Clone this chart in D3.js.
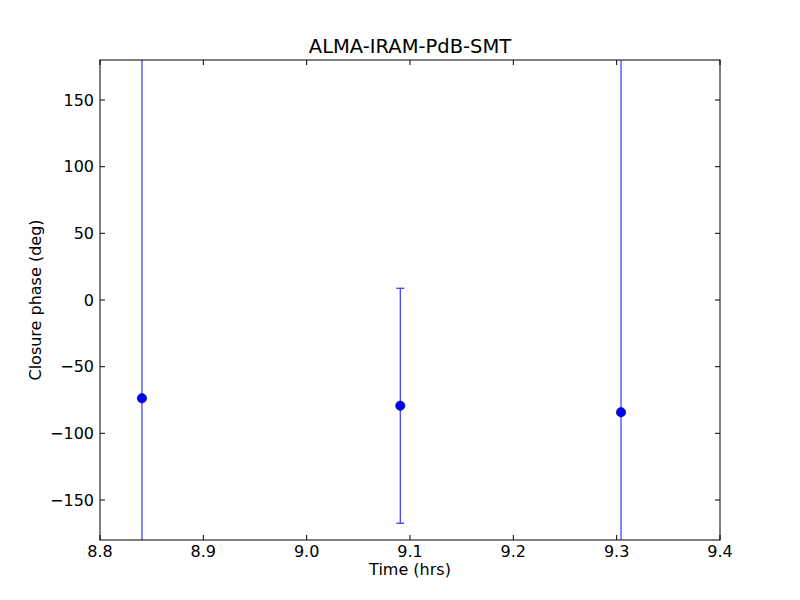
<!DOCTYPE html>
<html>
<head>
<meta charset="utf-8">
<script src="https://cdn.jsdelivr.net/npm/d3@7"></script>
<style>
  body { margin: 0; background: #fff; }
  text { font-family: "DejaVu Sans", sans-serif; fill: #000; }
</style>
</head>
<body>
<svg id="chart" width="800" height="600"></svg>
<script>
const times = [8.8406, 9.0906, 9.3042]
const phases = [-73.7, -79.3, -84.2]
const errors = [270, 88.1, 270]
const xTicks = [8.8, 8.9, 9.0, 9.1, 9.2, 9.3, 9.4]
const yTicks = [-150, -100, -50, 0, 50, 100, 150]

const margin = { top: 60, left: 100, right: 80, bottom: 60 },
    width = 800 - margin.left - margin.right,
    height = 600 - margin.top - margin.bottom

const svg = d3.select("#chart")
svg.append("rect").attr("width", 800).attr("height", 600).attr("fill", "#fff")

const g = svg.append("g")
    .attr("transform", `translate(${margin.left},${margin.top})`)

const x = d3.scaleLinear().domain([8.8, 9.4]).range([0, width])
const y = d3.scaleLinear().domain([-180, 180]).range([height, 0])

g.append("clipPath").attr("id", "clip")
    .append("rect").attr("width", width).attr("height", height)

const plot = g.append("g").attr("clip-path", "url(#clip)")

const pts = times.map((t, i) => ({ t: t, p: phases[i], e: errors[i] }))

// error bars
plot.selectAll(".err")
    .data(pts)
    .enter()
    .append("line")
    .attr("x1", d => x(d.t)).attr("x2", d => x(d.t))
    .attr("y1", d => y(d.p + d.e)).attr("y2", d => y(d.p - d.e))
    .attr("stroke", "#3333ff")
    .attr("stroke-width", 1.2)

const capW = 4
pts.forEach(d => {
    [d.p + d.e, d.p - d.e].forEach(v => {
        plot.append("line")
            .attr("x1", x(d.t) - capW).attr("x2", x(d.t) + capW)
            .attr("y1", y(v)).attr("y2", y(v))
            .attr("stroke", "#3333ff")
            .attr("stroke-width", 1.2)
    })
})

plot.selectAll(".pt")
    .data(pts)
    .enter()
    .append("circle")
    .attr("cx", d => x(d.t))
    .attr("cy", d => y(d.p))
    .attr("r", 4.7)
    .attr("fill", "#0000ff")
    .attr("stroke", "#000")
    .attr("stroke-width", 0.5)

// frame
g.append("rect")
    .attr("width", width).attr("height", height)
    .attr("fill", "none").attr("stroke", "#000").attr("stroke-width", 1)

const tickLen = 5
const fmtY = v => (v < 0 ? "\u2212" + Math.abs(v) : "" + v)

xTicks.forEach(v => {
    const px = x(v)
    g.append("line").attr("x1", px).attr("x2", px).attr("y1", height).attr("y2", height - tickLen).attr("stroke", "#000")
    g.append("line").attr("x1", px).attr("x2", px).attr("y1", 0).attr("y2", tickLen).attr("stroke", "#000")
    g.append("text")
        .attr("x", px).attr("y", height + 17)
        .attr("text-anchor", "middle")
        .attr("font-size", 16)
        .text(v.toFixed(1))
})

yTicks.forEach(v => {
    const py = y(v)
    g.append("line").attr("x1", 0).attr("x2", tickLen).attr("y1", py).attr("y2", py).attr("stroke", "#000")
    g.append("line").attr("x1", width).attr("x2", width - tickLen).attr("y1", py).attr("y2", py).attr("stroke", "#000")
    g.append("text")
        .attr("x", -6).attr("y", py)
        .attr("dy", "0.35em")
        .attr("text-anchor", "end")
        .attr("font-size", 16)
        .text(fmtY(v))
})

g.append("text")
    .attr("x", width / 2).attr("y", height + 35)
    .attr("text-anchor", "middle")
    .attr("font-size", 16)
    .text("Time (hrs)")

g.append("text")
    .attr("transform", `translate(-59,${height / 2}) rotate(-90)`)
    .attr("text-anchor", "middle")
    .attr("font-size", 16)
    .text("Closure phase (deg)")

g.append("text")
    .attr("x", width / 2).attr("y", -7)
    .attr("text-anchor", "middle")
    .attr("font-size", 19.5)
    .text("ALMA-IRAM-PdB-SMT")
</script>
</body>
</html>
